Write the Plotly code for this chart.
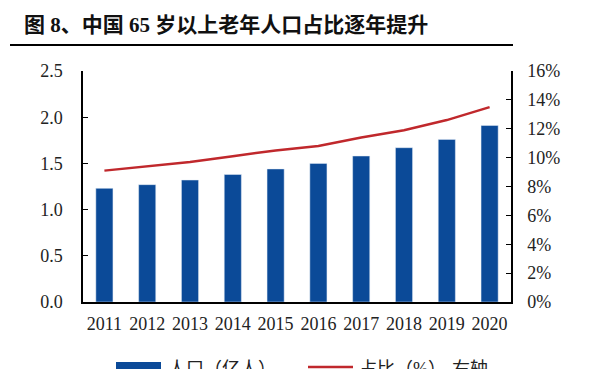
import plotly.graph_objects as go

years = ["2011", "2012", "2013", "2014", "2015", "2016", "2017", "2018", "2019", "2020"]
population = [1.23, 1.27, 1.32, 1.38, 1.44, 1.50, 1.58, 1.67, 1.76, 1.91]
share_pct = [9.1, 9.4, 9.7, 10.1, 10.5, 10.8, 11.4, 11.9, 12.6, 13.5]
left_ticks = [0, 0.5, 1.0, 1.5, 2.0, 2.5]
right_ticks = [0, 2, 4, 6, 8, 10, 12, 14, 16]

BLUE = "#0b4a98"
RED = "#c0282c"
SERIF = "Liberation Serif, Times New Roman, serif"
MIXED = "Liberation Serif, Noto Sans CJK SC"

fig = go.Figure()
fig.add_trace(go.Bar(x=years, y=population, name="人口（亿人）", marker_color=BLUE,
                     width=0.4, yaxis="y"))
fig.add_trace(go.Scatter(x=years, y=share_pct, name="占比（%）-右轴", mode="lines",
                         line=dict(color=RED, width=2.5), yaxis="y2"))

# page has an 8px body margin, so the figure is 592x361 placed at (8, 8)
fig.update_layout(
    width=592, height=361,
    margin=dict(l=75, r=89, t=63, b=67, autoexpand=False),
    paper_bgcolor="white", plot_bgcolor="white",
    showlegend=False,
    xaxis=dict(showline=True, linecolor="black", linewidth=1.5, ticks="", automargin=False,
               ticklabelstandoff=5,
               tickfont=dict(family=SERIF, size=18, color="#222")),
    yaxis=dict(range=[0, 2.5], tickvals=left_ticks, ticktext=["%.1f" % v for v in left_ticks],
               showgrid=False, showline=True, linecolor="black", linewidth=1.5, automargin=False,
               ticks="inside", ticklen=5, tickcolor="black", zeroline=False, ticklabelstandoff=15,
               tickfont=dict(family=SERIF, size=18, color="#222")),
    yaxis2=dict(range=[0, 16], tickvals=right_ticks, ticktext=["%d%%" % v for v in right_ticks],
                overlaying="y", side="right", showgrid=False, showline=True, linecolor="black",
                linewidth=1.5, ticks="inside", ticklen=5, tickcolor="black", zeroline=False,
                automargin=False, ticklabelstandoff=11,
                tickfont=dict(family=SERIF, size=18, color="#222")),
)


def py(pix):
    return (302 - pix) / 231


def px(pix):
    return (pix - 83) / 428


# Title and rule
fig.add_annotation(text="<b>图 8、中国 65 岁以上老年人口占比逐年提升</b>", xref="paper", yref="paper",
                   x=px(22), y=py(25), xanchor="left", yanchor="middle", showarrow=False,
                   font=dict(family=MIXED, size=21, color="#111"))
fig.add_shape(type="line", xref="paper", yref="paper", x0=px(10), x1=px(513),
              y0=py(45), y1=py(45), line=dict(color="black", width=2))

# Manual legend (cut off at bottom like the reference)
fig.add_shape(type="rect", xref="paper", yref="paper", x0=px(116), x1=px(161),
              y0=py(362), y1=py(375), fillcolor=BLUE, line=dict(width=0))
fig.add_annotation(text="人口（亿人）", xref="paper", yref="paper", x=px(166), y=py(357),
                   xanchor="left", yanchor="top", showarrow=False,
                   font=dict(family=MIXED, size=18, color="#222"))
fig.add_shape(type="line", xref="paper", yref="paper", x0=px(308), x1=px(353),
              y0=py(367), y1=py(367), line=dict(color=RED, width=2.5))
fig.add_annotation(text="占比（%）-右轴", xref="paper", yref="paper", x=px(357), y=py(357),
                   xanchor="left", yanchor="top", showarrow=False,
                   font=dict(family=MIXED, size=18, color="#222"))

fig.write_html("out.html")
